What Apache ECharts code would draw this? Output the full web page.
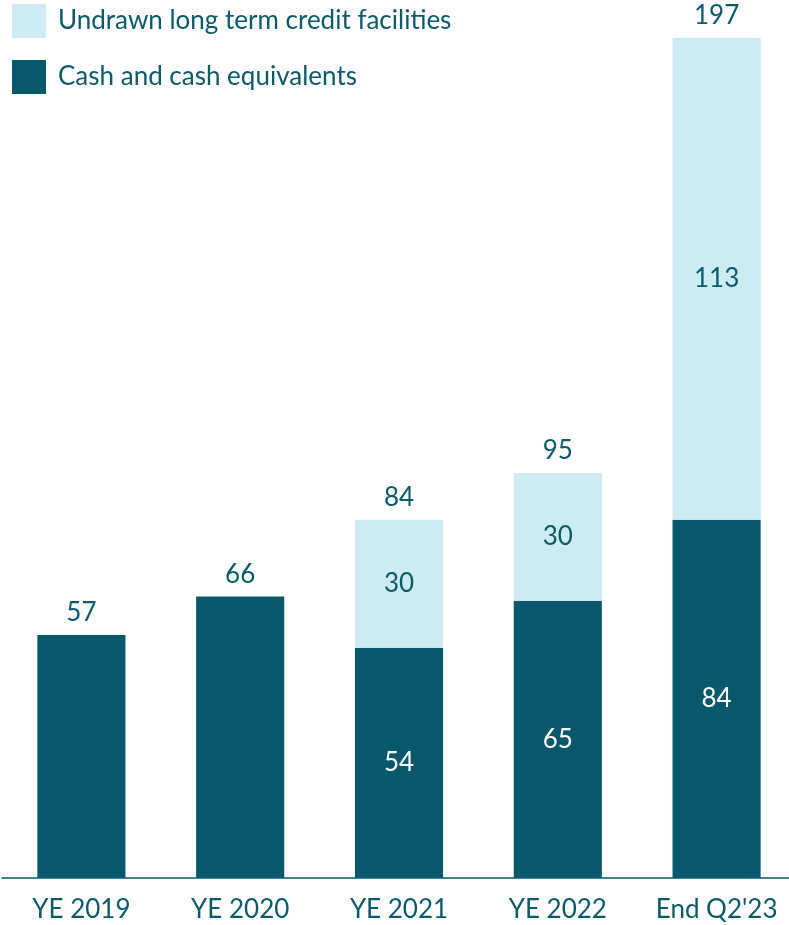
<!DOCTYPE html>
<html>
<head>
<meta charset="utf-8">
<script src="https://cdn.jsdelivr.net/npm/echarts@6/dist/echarts.min.js"></script>
<style>
  html, body { margin: 0; padding: 0; background: #ffffff; }
  #chart { width: 789px; height: 925px; }
</style>
</head>
<body>
<div id="chart"></div>
<script>
// Liquidity position by period
const categories = ['YE 2019', 'YE 2020', 'YE 2021', 'YE 2022', "End Q2'23"];
const cashValues = [57, 66, 54, 65, 84];
const undrawnValues = [null, null, 30, 30, 113];
const totals = [57, 66, 84, 95, 197];

const DARK = '#06586a';
const LIGHT = '#cdebf2';
const TEXT = '#0b5a6b';
const FONT = 'Lato, "Open Sans", sans-serif';

const chart = echarts.init(document.getElementById('chart'));

chart.setOption({
  animation: false,
  textStyle: { fontFamily: FONT },
  legend: {
    left: 12,
    top: 4,
    padding: 0,
    orient: 'vertical',
    itemWidth: 34,
    itemHeight: 34,
    itemGap: 22,
    icon: 'rect',
    data: ['Undrawn long term credit facilities', 'Cash and cash equivalents'],
    textStyle: { color: TEXT, fontSize: 26, fontFamily: FONT, padding: [0, 0, 0, 7] }
  },
  grid: { left: 2, right: -7, top: 38, bottom: 47, containLabel: false, outerBoundsMode: 'none' },
  xAxis: {
    type: 'category',
    data: categories,
    axisLine: { lineStyle: { color: DARK, width: 1.5 } },
    axisTick: { show: false },
    axisLabel: { color: TEXT, fontSize: 26, margin: 19, fontFamily: FONT, interval: 0 }
  },
  yAxis: { type: 'value', min: 0, max: 197, show: false, splitLine: { show: false } },
  series: [
    {
      name: 'Cash and cash equivalents',
      type: 'bar',
      stack: 'liquidity',
      barWidth: '55.5%',
      itemStyle: { color: DARK },
      data: cashValues.map((v, i) => ({
        value: v,
        label: { show: undrawnValues[i] != null }
      })),
      label: {
        position: 'inside',
        color: '#ffffff',
        fontSize: 26,
        fontFamily: FONT
      }
    },
    {
      name: 'Undrawn long term credit facilities',
      type: 'bar',
      stack: 'liquidity',
      itemStyle: { color: LIGHT },
      data: undrawnValues.map(v => (v == null ? '-' : v)),
      label: {
        show: true,
        position: 'inside',
        color: TEXT,
        fontSize: 26,
        fontFamily: FONT
      }
    },
    {
      name: 'Total',
      type: 'bar',
      stack: 'liquidity',
      itemStyle: { color: 'transparent' },
      data: totals.map(() => 0),
      label: {
        show: true,
        position: 'top',
        distance: 9,
        color: TEXT,
        fontSize: 26,
        fontFamily: FONT,
        formatter: p => String(totals[p.dataIndex])
      }
    }
  ]
});
</script>
</body>
</html>
